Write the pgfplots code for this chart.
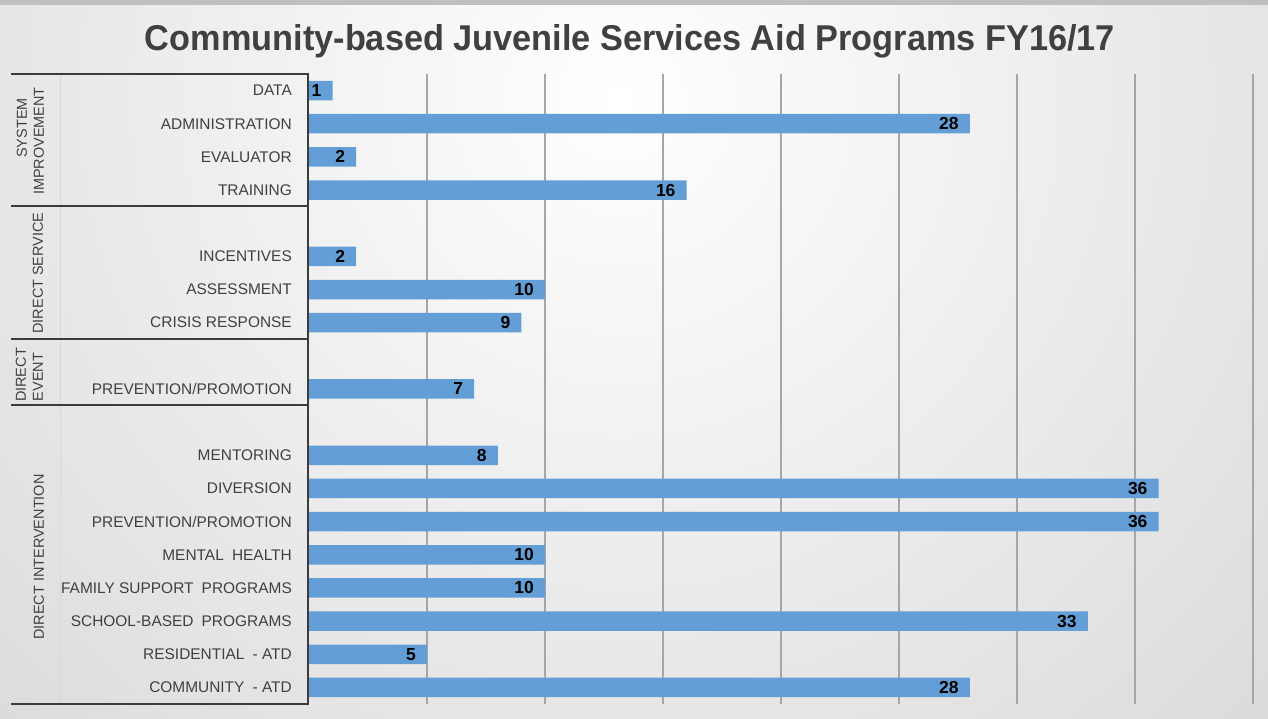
\documentclass[border=0pt]{standalone}
\usepackage{pgfplots}
\pgfplotsset{compat=1.18}
\usepackage{fontspec}
\setmainfont{Liberation Sans}
\usepackage{graphicx}
\definecolor{barblue}{RGB}{100,158,214}
\definecolor{txtgray}{RGB}{64,64,64}
\definecolor{boxline}{RGB}{60,60,60}
\begin{document}
\begin{tikzpicture}[x=1bp,y=1bp]
\useasboundingbox (0,0) rectangle (1268,719);
\begin{scope}
\clip (0,0) rectangle (1268,719);
\shade[inner color=white, outer color=black!18] (620,620) circle (1150);
\end{scope}
\fill[black!25] (0,714) rectangle (1268,719);
\node[text=txtgray, font=\fontsize{36}{42}\selectfont\bfseries] at (630,678) {\resizebox{970bp}{\height}{Community-based Juvenile Services Aid Programs FY16/17}};
\begin{axis}[at={(309bp,15bp)}, anchor=south west, scale only axis,
  width=944bp, height=630bp,
  xbar, bar width=19.5bp, bar shift=0pt,
  xmin=0, xmax=40, ymin=0.5, ymax=19.5, y dir=reverse,
  xtick={5,10,...,40}, xticklabels={},
  xmajorgrids, grid style={black!35, line width=1.3bp},
  ytick={1,2,3,4,6,7,8,10,12,13,14,15,16,17,18,19},
  yticklabels={DATA,ADMINISTRATION,EVALUATOR,TRAINING,INCENTIVES,ASSESSMENT,CRISIS RESPONSE,PREVENTION/PROMOTION,MENTORING,DIVERSION,PREVENTION/PROMOTION,MENTAL\hspace{0.25em} HEALTH,FAMILY SUPPORT\hspace{0.25em} PROGRAMS,SCHOOL-BASED\hspace{0.25em} PROGRAMS,RESIDENTIAL\hspace{0.25em} - ATD,COMMUNITY\hspace{0.25em} - ATD},
  yticklabel style={font=\fontsize{15.5}{18}\selectfont, text=txtgray, anchor=east, inner sep=0pt, xshift=-17bp},
  axis line style={draw=none}, major tick length=0pt, tick style={draw=none},
  nodes near coords,
  nodes near coords style={anchor=east, inner sep=0pt, xshift=-11bp, font=\fontsize{17.5}{20}\selectfont\bfseries, text=black},
  /pgf/number format/assume math mode=true,
  clip=false]
\addplot[fill=barblue, draw=none] table[x=v, y=p] {
p v
1 1
2 28
3 2
4 16
6 2
7 10
8 9
10 7
12 8
13 36
14 36
15 10
16 10
17 33
18 5
19 28
};
\end{axis}
\draw[black!15, line width=1bp] (60,645) -- (60,15);
\draw[boxline, line width=2bp] (11,645) -- (308,645) -- (308,15) -- (11,15);
\draw[boxline, line width=2bp] (11,513) -- (308,513);
\draw[boxline, line width=2bp] (11,380) -- (308,380);
\draw[boxline, line width=2bp] (11,314) -- (308,314);
\begin{scope}[every node/.style={rotate=90, font=\fontsize{14.5}{17}\selectfont, text=txtgray, inner sep=0pt}]
\node at (22,591) {SYSTEM};
\node at (39,578) {IMPROVEMENT};
\node at (38,446) {DIRECT SERVICE};
\node at (21,344) {DIRECT};
\node at (38,342) {EVENT};
\node at (39,162) {DIRECT INTERVENTION};
\end{scope}
\end{tikzpicture}
\end{document}
